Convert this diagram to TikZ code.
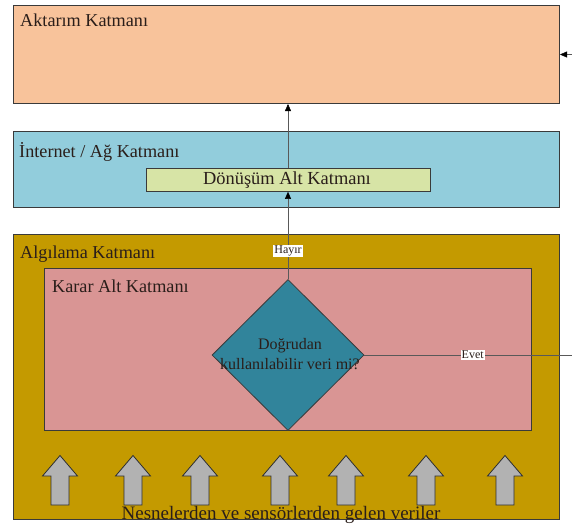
\documentclass[tikz,border=0pt]{standalone}
\usepackage{fontspec}
\setmainfont{Liberation Serif}
\usetikzlibrary{arrows.meta,shapes.geometric}
\definecolor{peach}{HTML}{F8C39B}
\definecolor{skyb}{HTML}{92CDDC}
\definecolor{lgreen}{HTML}{D7E4A6}
\definecolor{gold}{HTML}{C49A00}
\definecolor{rose}{HTML}{D99594}
\definecolor{teal}{HTML}{31849B}
\definecolor{ink}{HTML}{2A1E1A}
\definecolor{edge}{HTML}{3A3A3A}
\tikzset{
  layer/.style={draw=edge, line width=1pt, rectangle, anchor=north west, inner sep=0pt},
  title/.style={anchor=base west, inner sep=0pt, text=ink, font=\fontsize{18.2}{20}\selectfont},
  conn/.style={draw=gray!70!black, line width=0.5pt, -{Triangle[length=7pt,width=6pt,color=black]}},
  lbl/.style={fill=white, inner sep=1pt, text=ink, font=\fontsize{12}{13}\selectfont},
  blockarrow/.style={draw=edge!80!black, line width=0.8pt, fill=gray!60}
}
\begin{document}
\begin{tikzpicture}[x=1pt,y=-1pt]
\useasboundingbox (0,0) rectangle (572,523);
\clip (0,0) rectangle (572,523);
% layers
\node[layer, fill=peach, minimum width=546pt, minimum height=98pt] (akt) at (13,5) {};
\node[title] (aktT) at (20,26) {Aktarım Katmanı};
\node[layer, fill=skyb, minimum width=546pt, minimum height=76pt] (net) at (13,131) {};
\node[title] (netT) at (19,157) {İnternet / Ağ Katmanı};
\node[layer, fill=lgreen, minimum width=284pt, minimum height=23pt, line width=0.8pt] (don) at (146,168) {};
\node[anchor=center, inner sep=0pt, text=ink, font=\fontsize{18.4}{20}\selectfont] (donT) at (287,180) {Dönüşüm Alt Katmanı};
\node[layer, fill=gold, minimum width=546pt, minimum height=285pt] (alg) at (13,234) {};
\node[title] (algT) at (20,258) {Algılama Katmanı};
\node[layer, fill=rose, minimum width=487pt, minimum height=162pt, line width=0.8pt] (karar) at (44,268) {};
\node[title] (kararT) at (52,292) {Karar Alt Katmanı};
% diamond
\node[diamond, draw=edge, line width=0.8pt, fill=teal, minimum width=152pt, minimum height=151pt, inner sep=0pt, aspect=1] (dia) at (288,355) {};
\node[align=center, inner sep=0pt, text=ink, font=\fontsize{16}{19.5}\selectfont] (diaT) at (290,354) {Doğrudan\\kullanılabilir veri mi?};
% connectors
\draw[conn] (dia.north) -- node[lbl, pos=0.32] (hayir) {Hayır} (dia.north |- don.south);
\draw[conn] (dia.north |- don.north) -- (dia.north |- akt.south);
\coordinate (turn) at (590,355);
\draw[conn] (dia.east) -- node[lbl, pos=0.48] (evet) {Evet} (turn) |- (akt.east);
% block arrows
\foreach \cx in {60,133,200,280,346,426,505}{
  \draw[blockarrow] (\cx,455.5) -- (\cx+17.5,476) -- (\cx+9,476) -- (\cx+9,505) -- (\cx-9,505) -- (\cx-9,476) -- (\cx-17.5,476) -- cycle;
}
\node[anchor=base, inner sep=0pt, text=ink, font=\fontsize{19}{21}\selectfont] (src) at (281,519) {Nesnelerden ve sensörlerden gelen veriler};
\end{tikzpicture}
\end{document}
